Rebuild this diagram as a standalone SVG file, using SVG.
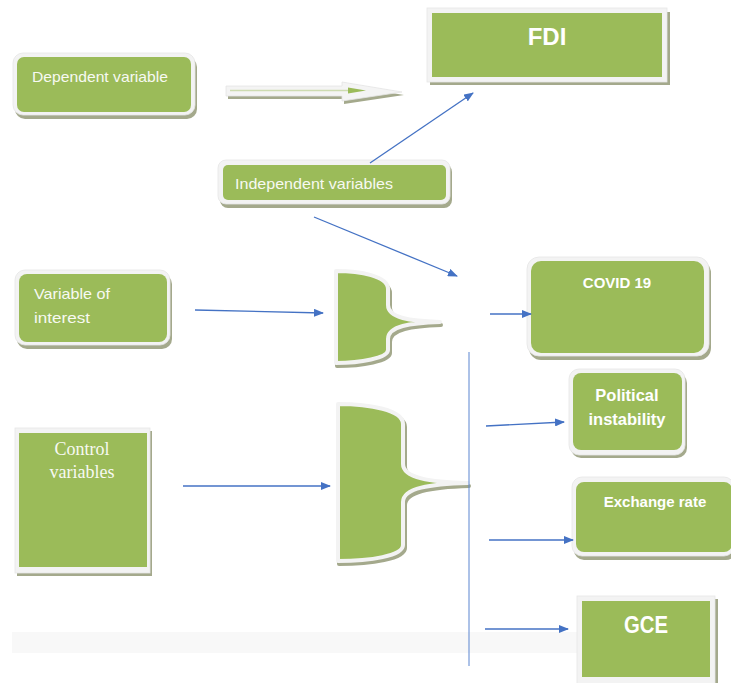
<svg xmlns="http://www.w3.org/2000/svg" width="731" height="683" viewBox="0 0 731 683">
<defs>
<style>
.sh{fill:#a4a98c}
.bd{fill:#f3f3f3;stroke:#e6e6e6;stroke-width:0.8}
.gr{fill:#9bbb59}
.t{font-family:"Liberation Sans",Arial,sans-serif;fill:#f7f9f2;font-size:15px}
.b{font-family:"Liberation Sans",Arial,sans-serif;fill:#ffffff;font-weight:bold}
.s{font-family:"Liberation Serif","Times New Roman",serif;fill:#f7f9f2;font-size:18px}
.c{stroke:#4472c4;stroke-width:1.3;fill:none}
.brace{fill:#9bbb59;stroke:#f3f3f3;stroke-width:4;stroke-linejoin:round}
.braceSh{fill:#a4a98c;stroke:#a4a98c;stroke-width:4;stroke-linejoin:round}
</style>
<marker id="ah" markerWidth="10" markerHeight="8" refX="9" refY="4" orient="auto" markerUnits="userSpaceOnUse">
<path d="M0,0 L10,4 L0,8 Z" fill="#4472c4"/>
</marker>
</defs>
<rect x="0" y="0" width="731" height="683" fill="#ffffff"/>
<rect x="12" y="632" width="568" height="21" fill="#f8f8f8"/>

<g id="dependent">
<rect class="sh" x="15" y="57" width="182" height="62" rx="10"/>
<rect class="bd" x="13" y="53" width="182" height="62" rx="10"/>
<rect class="gr" x="17" y="57" width="174" height="55" rx="7"/>
<text class="t" x="32" y="81.5" textLength="136" lengthAdjust="spacingAndGlyphs">Dependent variable</text>
</g>

<g id="dep-arrow">
<path d="M228,89 L344,89 L344,85 L404,95 L344,104 L344,99 L228,99 Z" fill="#a4a98c"/>
<path d="M226,86 L342,86 L342,82 L402,92 L342,101 L342,96 L226,96 Z" fill="#f4f4f4" stroke="#e4e4e4" stroke-width="0.8"/>
<line x1="230" y1="90.5" x2="350" y2="90.5" stroke="#cddbb1" stroke-width="1.6"/>
<path d="M348,87.5 L366,90.5 L348,93.5 Z" fill="#9bbb59"/>
</g>

<g id="fdi">
<rect class="sh" x="430" y="12" width="240" height="73"/>
<rect class="bd" x="427" y="8" width="240" height="74"/>
<rect class="gr" x="432" y="13" width="230" height="64"/>
<text class="b" x="547" y="45" font-size="24" text-anchor="middle">FDI</text>
</g>

<g id="independent">
<rect class="sh" x="220" y="164" width="232" height="44" rx="8"/>
<rect class="bd" x="218" y="160" width="232" height="44" rx="8"/>
<rect class="gr" x="223" y="165" width="223" height="35" rx="5"/>
<text class="t" x="235" y="189" textLength="158" lengthAdjust="spacingAndGlyphs">Independent variables</text>
</g>

<g id="interest">
<rect class="sh" x="17" y="274" width="155" height="75" rx="10"/>
<rect class="bd" x="15" y="270" width="155" height="75" rx="10"/>
<rect class="gr" x="19" y="274" width="148" height="68" rx="8"/>
<text class="t" x="34" y="299" textLength="76" lengthAdjust="spacingAndGlyphs">Variable of</text>
<text class="t" x="34" y="323" textLength="56" lengthAdjust="spacingAndGlyphs">interest</text>
</g>

<g id="control">
<rect class="sh" x="17" y="431" width="135" height="145"/>
<rect class="bd" x="15" y="428" width="135" height="145"/>
<rect class="gr" x="19" y="433" width="128" height="134"/>
<text class="s" x="82" y="455" text-anchor="middle">Control</text>
<text class="s" x="82" y="478" text-anchor="middle">variables</text>
</g>

<g id="brace1">
<path class="braceSh" d="M337,276 C362,276 390,280 390,293 L390,308 C390,321 412,324 441,325 C412,326 390,329 390,342 L390,353 C390,361 362,366 337,366 Z"/>
<path class="brace" d="M336,271 C360,271 388,276 388,289 L388,305 C388,318 410,321 440,322 C410,323 388,326 388,339 L388,350 C388,358 360,363 336,363 Z"/>
</g>

<g id="brace2">
<path class="braceSh" d="M339,407 C371,407 405,413 405,427 L405,467 C405,481 432,485 469,486 C432,487 405,491 405,505 L405,548 C405,559 371,564 339,564 Z"/>
<path class="brace" d="M338,404 C370,404 403,410 403,424 L403,464 C403,478 430,482 468,483 C430,484 403,488 403,502 L403,545 C403,556 370,561 338,561 Z"/>
</g>

<g id="covid">
<rect class="sh" x="529" y="261" width="182" height="99" rx="12"/>
<rect class="bd" x="527" y="257" width="182" height="99" rx="12"/>
<rect class="gr" x="531" y="261" width="173" height="92" rx="10"/>
<text class="b" x="617" y="288" font-size="15" text-anchor="middle">COVID 19</text>
</g>

<g id="political">
<rect class="sh" x="571" y="373" width="116" height="85" rx="10"/>
<rect class="bd" x="569" y="369" width="116" height="86" rx="10"/>
<rect class="gr" x="573" y="373" width="109" height="77" rx="8"/>
<text class="b" x="627" y="401" font-size="16.5" text-anchor="middle">Political</text>
<text class="b" x="627" y="425" font-size="16.5" text-anchor="middle">instability</text>
</g>

<g id="exchange">
<rect class="sh" x="574" y="481" width="162" height="79" rx="10"/>
<rect class="bd" x="572" y="477" width="162" height="79" rx="10"/>
<rect class="gr" x="576" y="482" width="156" height="70" rx="8"/>
<text class="b" x="655" y="507" font-size="15" text-anchor="middle">Exchange rate</text>
</g>

<g id="gce">
<rect class="sh" x="580" y="599" width="138" height="88"/>
<rect class="bd" x="577" y="596" width="138" height="90"/>
<rect class="gr" x="582" y="601" width="128" height="76"/>
<text class="b" x="646" y="633" font-size="24" text-anchor="middle" textLength="44" lengthAdjust="spacingAndGlyphs">GCE</text>
</g>

<g id="connectors">
<line class="c" x1="370" y1="163" x2="473" y2="93" marker-end="url(#ah)"/>
<line class="c" x1="314" y1="217" x2="457" y2="276" marker-end="url(#ah)"/>
<line class="c" x1="195" y1="310" x2="323" y2="313" marker-end="url(#ah)"/>
<line class="c" x1="183" y1="486" x2="330" y2="486" marker-end="url(#ah)"/>
<line class="c" x1="490" y1="314" x2="531" y2="314" marker-end="url(#ah)"/>
<line class="c" x1="486" y1="426" x2="564" y2="422" marker-end="url(#ah)"/>
<line class="c" x1="489" y1="540" x2="573" y2="540" marker-end="url(#ah)"/>
<line class="c" x1="485" y1="629" x2="568" y2="629" marker-end="url(#ah)"/>
<line x1="469" y1="352" x2="469" y2="666" stroke="#5b85d0" stroke-width="1"/>
</g>
</svg>
